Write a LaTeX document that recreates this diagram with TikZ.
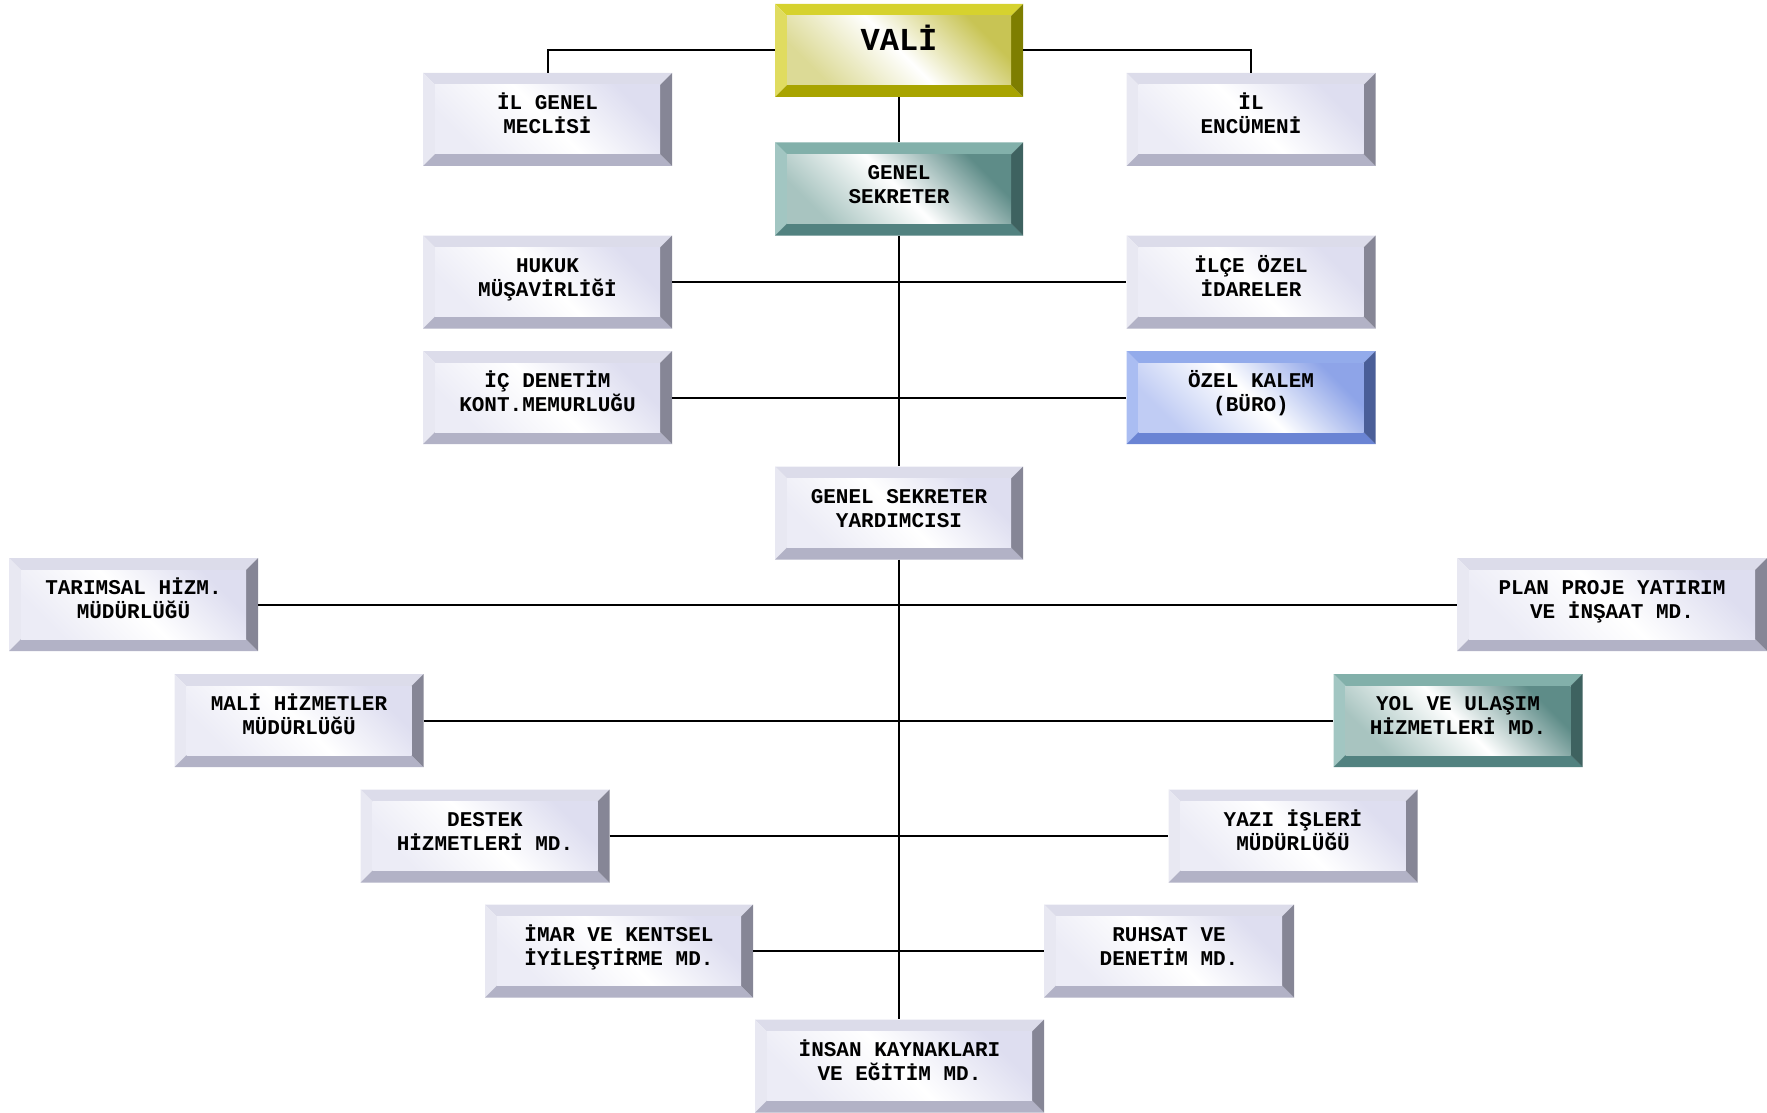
\documentclass[tikz,border=0pt]{standalone}
\usepackage{fontspec}
\newfontfamily\boxfont{Liberation Mono}
\usetikzlibrary{positioning}
% renkler
\definecolor{color_vali_top}{RGB}{214,210,46}
\definecolor{color_vali_left}{RGB}{224,220,96}
\definecolor{color_vali_bottom}{RGB}{168,164,0}
\definecolor{color_vali_right}{RGB}{126,126,0}
\definecolor{color_vali_hi}{RGB}{200,196,84}
\definecolor{color_vali_lo}{RGB}{220,218,150}
\definecolor{color_sekr_top}{RGB}{130,176,170}
\definecolor{color_sekr_left}{RGB}{162,198,194}
\definecolor{color_sekr_bottom}{RGB}{82,130,128}
\definecolor{color_sekr_right}{RGB}{62,98,96}
\definecolor{color_sekr_hi}{RGB}{94,140,136}
\definecolor{color_sekr_lo}{RGB}{168,196,192}
\definecolor{color_kalem_top}{RGB}{147,171,235}
\definecolor{color_kalem_left}{RGB}{170,189,242}
\definecolor{color_kalem_bottom}{RGB}{106,132,212}
\definecolor{color_kalem_right}{RGB}{74,94,152}
\definecolor{color_kalem_hi}{RGB}{142,164,232}
\definecolor{color_kalem_lo}{RGB}{192,204,244}
\definecolor{color_birim_top}{RGB}{220,220,234}
\definecolor{color_birim_left}{RGB}{232,232,242}
\definecolor{color_birim_bottom}{RGB}{178,178,198}
\definecolor{color_birim_right}{RGB}{134,134,150}
\definecolor{color_birim_hi}{RGB}{222,222,240}
\definecolor{color_birim_lo}{RGB}{236,236,246}

\begin{document}
\begin{tikzpicture}[x=1pt,y=-1pt,
  kutu/.style={fill=white, minimum width=249pt, minimum height=93pt, inner sep=0pt,
    align=center, text height=36pt, text depth=8pt,
    font=\boxfont\bfseries\fontsize{21}{24}\selectfont,
    path picture={
      \coordinate (pnw) at (path picture bounding box.north west);
      \coordinate (pne) at (path picture bounding box.north east);
      \coordinate (psw) at (path picture bounding box.south west);
      \coordinate (pse) at (path picture bounding box.south east);
      \fill[color_#1_top] (pnw) -- (pne) -- ([shift={(-12pt,-12pt)}]pne) -- ([shift={(12pt,-12pt)}]pnw) -- cycle;
      \fill[color_#1_left] (pnw) -- ([shift={(12pt,-12pt)}]pnw) -- ([shift={(12pt,12pt)}]psw) -- (psw) -- cycle;
      \fill[color_#1_bottom] (psw) -- ([shift={(12pt,12pt)}]psw) -- ([shift={(-12pt,12pt)}]pse) -- (pse) -- cycle;
      \fill[color_#1_right] (pse) -- ([shift={(-12pt,12pt)}]pse) -- ([shift={(-12pt,-12pt)}]pne) -- (pne) -- cycle;
      \shade[top color=color_#1_hi, bottom color=color_#1_lo, middle color=white, shading angle=-45]
        ([shift={(12pt,-12pt)}]pnw) rectangle ([shift={(-12pt,12pt)}]pse);
    }},
  baglanti/.style={line width=2pt}]

  \useasboundingbox (0,0) rectangle (1767,1113);

  % VALI
  \node[kutu=vali, minimum width=248pt, text height=0pt, text depth=0pt,
    font=\boxfont\bfseries\fontsize{32}{34}\selectfont] (vali) at (899,50.5) {VALİ};
  \node[kutu=birim] (meclis) at (547.5,119.5) {İL GENEL\\MECLİSİ};
  \node[kutu=birim] (encumen) at (1251,119.5) {İL\\ENCÜMENİ};

  % GENEL SEKRETER
  \node[kutu=sekr, minimum width=248pt] (gensek) at (899,189) {GENEL\\SEKRETER};
  \node[kutu=birim] (hukuk) at (547.5,282) {HUKUK\\MÜŞAVİRLİĞİ};
  \node[kutu=birim] (ilce) at (1251,282) {İLÇE ÖZEL\\İDARELER};
  \node[kutu=birim] (icdenetim) at (547.5,397.5) {İÇ DENETİM\\KONT.MEMURLUĞU};
  \node[kutu=kalem] (ozelkalem) at (1251,397.5) {ÖZEL KALEM\\(BÜRO)};

  % GENEL SEKRETER YARDIMCISI
  \node[kutu=birim, minimum width=248pt] (gsy) at (899,513) {GENEL SEKRETER\\YARDIMCISI};

  % MUDURLUKLER
  \node[kutu=birim] (tarimsal) at (133.5,604.5) {TARIMSAL HİZM.\\MÜDÜRLÜĞÜ};
  \node[kutu=birim, minimum width=310pt] (plan) at (1612,604.5) {PLAN PROJE YATIRIM\\VE İNŞAAT MD.};
  \node[kutu=birim] (mali) at (299,720.5) {MALİ HİZMETLER\\MÜDÜRLÜĞÜ};
  \node[kutu=sekr] (yol) at (1458,720.5) {YOL VE ULAŞIM\\HİZMETLERİ MD.};
  \node[kutu=birim] (destek) at (485,836) {DESTEK\\HİZMETLERİ MD.};
  \node[kutu=birim] (yazi) at (1293,836) {YAZI İŞLERİ\\MÜDÜRLÜĞÜ};
  \node[kutu=birim, minimum width=268pt] (imar) at (619,951) {İMAR VE KENTSEL\\İYİLEŞTİRME MD.};
  \node[kutu=birim, minimum width=250pt] (ruhsat) at (1169,951) {RUHSAT VE\\DENETİM MD.};
  \node[kutu=birim, minimum width=289pt] (insan) at (899.5,1066) {İNSAN KAYNAKLARI\\VE EĞİTİM MD.};

  % baglantilar
  \draw[baglanti] (vali.west) -| (meclis.north);
  \draw[baglanti] (vali.east) -| (encumen.north);
  \draw[baglanti] (vali) -- (gensek);
  \draw[baglanti] (gensek) -- (gsy);
  \draw[baglanti] (gsy.south) -- (gsy.south |- insan.north);
  \draw[baglanti] (hukuk) -- (ilce);
  \draw[baglanti] (icdenetim) -- (ozelkalem);
  \draw[baglanti] (tarimsal) -- (plan);
  \draw[baglanti] (mali) -- (yol);
  \draw[baglanti] (destek) -- (yazi);
  \draw[baglanti] (imar) -- (ruhsat);

\end{tikzpicture}
\end{document}
